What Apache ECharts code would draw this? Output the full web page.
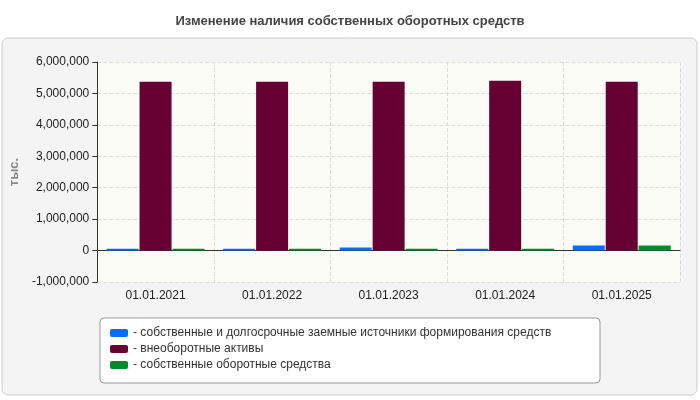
<!DOCTYPE html><html><head><meta charset="utf-8"><script src="https://cdn.jsdelivr.net/npm/echarts@6/dist/echarts.min.js"></script></head>
<body style="margin:0;background:#fff"><div id="c" style="width:700px;height:400px"></div>
<script>
const categories=['01.01.2021','01.01.2022','01.01.2023','01.01.2024','01.01.2025'];
const s1=[60000,60000,100000,60000,160000];
const s2=[5370000,5370000,5370000,5400000,5370000];
const s3=[60000,60000,60000,60000,160000];
const names=['- собственные и долгосрочные заемные источники формирования средств','- внеоборотные активы','- собственные оборотные средства'];
const colors=['#0a6cf5','#660033','#008a2e'];
const c=echarts.init(document.getElementById('c'));
c.setOption({
 animation:false,
 title:{text:'Изменение наличия собственных оборотных средств',left:'center',top:10,textStyle:{fontSize:13,fontWeight:'bold',color:'#444',fontFamily:'Arial'}},
 graphic:[{type:'rect',shape:{x:2,y:38,width:695,height:357,r:6},style:{fill:'#f4f4f4',stroke:'#ccc'},z:-10},
  {type:'rect',shape:{x:100,y:318,width:500,height:65,r:4},style:{fill:'#fff',stroke:'#999'},z:-5}],
 grid:{left:97,right:20,top:62,bottom:118},
 legend:{orient:'vertical',left:105,top:322,itemWidth:18,itemHeight:8,itemGap:4,textStyle:{fontSize:12,color:'#333',fontFamily:'Arial'},data:names},
 xAxis:{type:'category',data:categories,axisLine:{lineStyle:{color:'#333'}},axisTick:{show:false},splitLine:{show:true,lineStyle:{type:'dashed',color:'#ddd'}},axisLabel:{color:'#222',fontSize:12,fontFamily:'Arial',margin:8}},
 yAxis:{type:'value',min:-1000000,max:6000000,interval:1000000,name:'тыс.',nameLocation:'middle',nameGap:75,nameTextStyle:{color:'#888',fontWeight:'bold',fontSize:13},axisLine:{show:true,lineStyle:{color:'#333'}},axisTick:{show:true},splitLine:{lineStyle:{type:'dashed',color:'#ddd'}},axisLabel:{color:'#222',fontSize:12,fontFamily:'Arial'},splitArea:{show:true,areaStyle:{color:['#fcfcf6','#fcfcf6']}}},
 series:[s1,s2,s3].map((d,i)=>({name:names[i],type:'bar',data:d,itemStyle:{color:colors[i]},barWidth:32,barGap:'3%'}))
});
</script></body></html>
